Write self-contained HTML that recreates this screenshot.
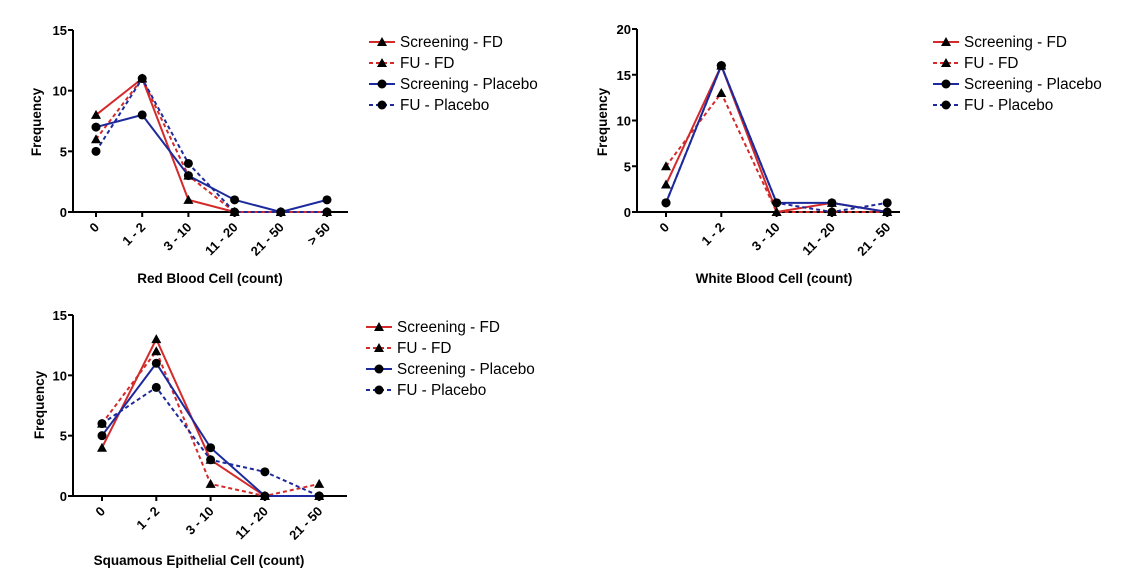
<!DOCTYPE html>
<html><head><meta charset="utf-8"><style>
body{margin:0;background:#fff;width:1121px;height:579px;overflow:hidden}
svg text{font-family:"Liberation Sans",Arial,sans-serif;fill:#000}
</style></head><body>
<svg id="s" width="1121" height="579"></svg>
<script>
const seriesNames=["Screening - FD","FU - FD","Screening - Placebo","FU - Placebo"];
const rbcCats=["0","1 - 2","3 - 10","11 - 20","21 - 50","> 50"];
const rbcScrFD=[8,11,1,0,0,0];
const rbcFuFD=[6,11,3,0,0,0];
const rbcScrPl=[7,8,3,1,0,1];
const rbcFuPl=[5,11,4,0,0,0];
const rbcTicks=[0,5,10,15];
const wbcCats=["0","1 - 2","3 - 10","11 - 20","21 - 50"];
const wbcScrFD=[3,16,0,1,0];
const wbcFuFD=[5,13,0,0,0];
const wbcScrPl=[1,16,1,1,0];
const wbcFuPl=[1,16,1,0,1];
const wbcTicks=[0,5,10,15,20];
const secCats=["0","1 - 2","3 - 10","11 - 20","21 - 50"];
const secScrFD=[4,13,3,0,0];
const secFuFD=[6,12,1,0,1];
const secScrPl=[5,11,4,0,0];
const secFuPl=[6,9,3,2,0];
const secTicks=[0,5,10,15];

const NS="http://www.w3.org/2000/svg";
const svg=document.getElementById('s');
function el(tag,attrs,parent,txt){const e=document.createElementNS(NS,tag);for(const k in attrs)e.setAttribute(k,attrs[k]);if(txt!==undefined)e.textContent=txt;(parent||svg).appendChild(e);return e;}
const styles=[{c:"#d42a2a",d:"",m:"tri"},{c:"#d42a2a",d:"4,3",m:"tri"},{c:"#1c2a9c",d:"",m:"dot"},{c:"#1c2a9c",d:"4,3",m:"dot"}];
function marker(g,t,x,y){
  if(t==="tri"){const m=el('polygon',{points:`${x},${y-5} ${x-5},${y+4} ${x+5},${y+4}`,fill:'#000'},g);}
  else{const m=el('circle',{cx:x,cy:y,r:4.5,fill:'#000'},g);}
}
function chart(o){
  const g=el('g',{});
  
  
  const ymax=o.ticks[o.ticks.length-1];
  const ys=v=>o.y0-(o.y0-o.y1)*v/ymax;
  const xs=i=>o.xa+i*o.step;
  const ya=el('line',{x1:o.ax,y1:o.y1,x2:o.ax,y2:o.y0,stroke:'#000','stroke-width':2},g);
  
  const xa=el('line',{x1:o.ax,y1:o.y0,x2:o.axEnd,y2:o.y0,stroke:'#000','stroke-width':2},g);
  
  o.ticks.forEach(t=>{
    el('line',{x1:o.ax-5,y1:ys(t),x2:o.ax,y2:ys(t),stroke:'#000','stroke-width':2},g);
    const tl=el('text',{x:o.ax-6,y:ys(t)+5,'text-anchor':'end','font-size':13,'font-weight':'bold'},g,t);
    
  });
  o.cats.forEach((c,i)=>{
    el('line',{x1:xs(i),y1:o.y0,x2:xs(i),y2:o.y0+5,stroke:'#000','stroke-width':2},g);
    const tl=el('text',{x:xs(i)+4,y:o.y0+16,'text-anchor':'end','font-size':13,'font-weight':'bold',transform:`rotate(-45 ${xs(i)+4} ${o.y0+16})`},g,c);
    
  });
  const xt=el('text',{x:o.xtx,y:o.xty,'text-anchor':'middle','font-size':13.5,'font-weight':'bold'},g,o.xtitle);
  
  const yt=el('text',{x:o.ytx,y:o.yty,'text-anchor':'middle','font-size':13.5,'font-weight':'bold',transform:`rotate(-90 ${o.ytx} ${o.yty})`},g,'Frequency');
  
  o.series.forEach((s,k)=>{
    const st=styles[k];
    const pl=el('polyline',{points:s.map((v,i)=>xs(i)+','+ys(v)).join(' '),fill:'none',stroke:st.c,'stroke-width':2,'stroke-dasharray':st.d},g);
    
  });
  o.series.forEach((s,k)=>s.forEach((v,i)=>marker(g,styles[k].m,xs(i),ys(v))));
  seriesNames.forEach((n,k)=>{
    const st=styles[k];const y=o.ly+k*21;
    const lg=el('g',{},g);
    
    el('line',{x1:o.lx,y1:y,x2:o.lx+26,y2:y,stroke:st.c,'stroke-width':2,'stroke-dasharray':st.d},lg);
    marker(lg,st.m,o.lx+13,y);
    el('text',{x:o.lx+31,y:y+5,'font-size':15.3},lg,n);
  });
}
chart({name:'rbc-chart',cats:rbcCats,series:[rbcScrFD,rbcFuFD,rbcScrPl,rbcFuPl],ticks:rbcTicks,ax:73,axEnd:348,xa:96,step:46.2,y0:212,y1:30,xtitle:'Red Blood Cell (count)',xtx:210,xty:283,ytx:41,yty:122,lx:369,ly:42});
chart({name:'wbc-chart',cats:wbcCats,series:[wbcScrFD,wbcFuFD,wbcScrPl,wbcFuPl],ticks:wbcTicks,ax:637,axEnd:900,xa:666,step:55.3,y0:212,y1:29,xtitle:'White Blood Cell (count)',xtx:774,xty:283,ytx:607,yty:122,lx:933,ly:42});
chart({name:'squamous-chart',cats:secCats,series:[secScrFD,secFuFD,secScrPl,secFuPl],ticks:secTicks,ax:73,axEnd:347,xa:102,step:54.3,y0:496,y1:315,xtitle:'Squamous Epithelial Cell (count)',xtx:199,xty:565,ytx:44,yty:405,lx:366,ly:327});
</script>
</body></html>
